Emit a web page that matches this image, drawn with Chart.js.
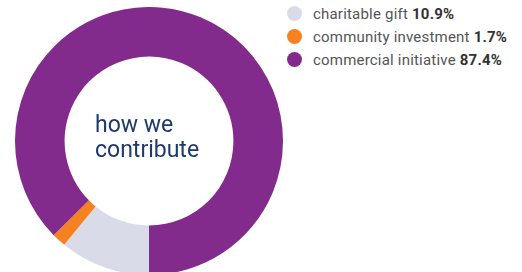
<!DOCTYPE html>
<html>
<head>
<meta charset="utf-8">
<script src="https://cdn.jsdelivr.net/npm/chart.js@4"></script>
<style>
  html, body { margin: 0; padding: 0; background: #fff; overflow: hidden; }
  body { width: 522px; height: 272px; position: relative; }
  #wrap { position: absolute; left: 15px; top: 7px; width: 268px; height: 268px; }
  #center { position: absolute; left: 95px; top: 112px; font-family: Roboto, sans-serif; font-weight: 400;
            font-size: 23px; line-height: 25px; color: #1d3a6c; }
  #legend { position: absolute; left: 287px; top: 2px; font-family: Roboto, sans-serif; font-size: 15px;
            letter-spacing: 0.2px; color: #555; }
  .item { height: 23px; display: flex; align-items: center; }
  .dot { width: 15px; height: 15px; border-radius: 50%; margin-right: 11px; }
  .item b { color: #333; margin-left: 4px; }
</style>
</head>
<body>
<div id="wrap"><canvas id="myChart" width="268" height="268"></canvas></div>
<div id="center">how we<br>contribute</div>
<div id="legend"></div>
<script>
// chart data
var labels = ['charitable gift', 'community investment', 'commercial initiative'];
var shares = [10.9, 1.7, 87.4];
var colors = ['#d9dce8', '#f58220', '#822b8c'];

var ctx = document.getElementById('myChart');
var chart = new Chart(ctx, {
  type: 'doughnut',
  data: {
    labels: labels,
    datasets: [{
      data: shares,
      backgroundColor: colors,
      borderWidth: 0
    }]
  },
  options: {
    responsive: false,
    animation: false,
    rotation: 180,
    cutout: '63%',
    layout: { padding: 0 },
    plugins: { legend: { display: false }, tooltip: { enabled: false } }
  }
});

// legend built from the same arrays
var legend = document.getElementById('legend');
labels.forEach(function(l, i) {
  var row = document.createElement('div');
  row.className = 'item';
  row.innerHTML = '<span class="dot" style="background:' + colors[i] + '"></span>' + l + ' <b>' + shares[i].toFixed(1) + '%</b>';
  legend.appendChild(row);
});
</script>
</body>
</html>
